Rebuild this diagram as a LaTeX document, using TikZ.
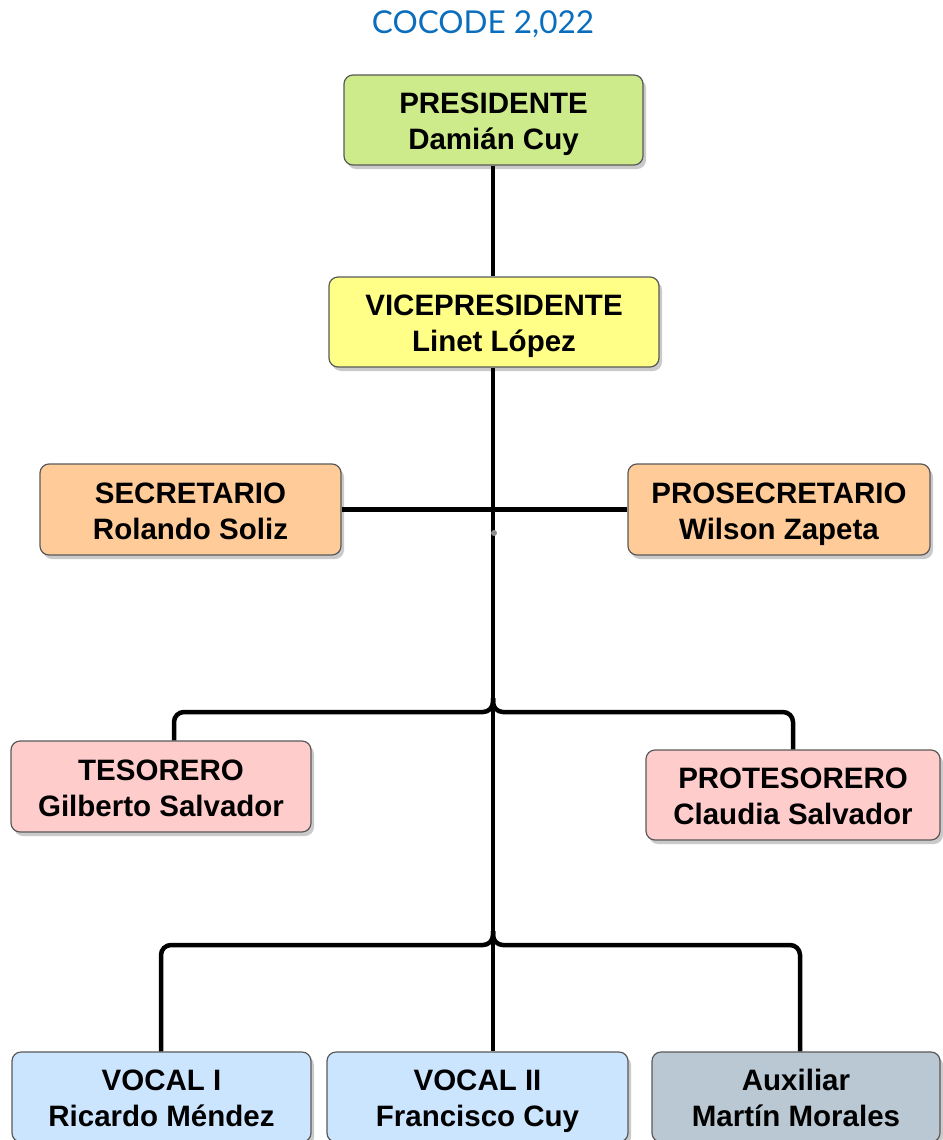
\documentclass[tikz,border=0pt]{standalone}
\usepackage{fontspec}
\setmainfont{Liberation Sans}
\newfontfamily\titlefont{Lato}
\usetikzlibrary{shadows,calc}
\definecolor{cgreen}{HTML}{CDEB8B}
\definecolor{cyellow}{HTML}{FFFF88}
\definecolor{corange}{HTML}{FFCC99}
\definecolor{cpink}{HTML}{FFCCCC}
\definecolor{cblue}{HTML}{CCE5FF}
\definecolor{cgrayblue}{HTML}{BAC8D3}
\definecolor{ctitle}{HTML}{0A6EBD}
\newcommand{\twolines}[2]{\rule{0pt}{34pt}#1\\\strut#2}
\begin{document}
\begin{tikzpicture}[x=1pt,y=-1pt,
  box/.style={draw=black!65, line width=1.2pt, rounded corners=9pt, align=center,
    inner sep=0pt, font=\fontsize{29.5}{36}\selectfont\bfseries,
    drop shadow={shadow xshift=3pt, shadow yshift=-4pt, opacity=0.35, fill=black!60}},
  conn/.style={line width=4.5pt, black, rounded corners=10pt}]
\useasboundingbox (0,0) rectangle (942,1140);
\node[text=ctitle, font=\titlefont\fontsize{31.5}{36}\selectfont] (title) at (483,24) {COCODE 2,022};
\node[box, fill=cgreen, minimum width=299pt, minimum height=90pt] (pres) at (493.5,120) {\twolines{PRESIDENTE}{Damián Cuy}};
\node[box, fill=cyellow, minimum width=330pt, minimum height=90pt] (vice) at (494,322) {\twolines{VICEPRESIDENTE}{Linet López}};
\node[box, fill=corange, minimum width=301pt, minimum height=91pt] (sec) at (190.5,509.5) {\twolines{SECRETARIO}{Rolando Soliz}};
\node[box, fill=corange, minimum width=302pt, minimum height=91pt] (prosec) at (779,509.5) {\twolines{PROSECRETARIO}{Wilson Zapeta}};
\node[box, fill=cpink, minimum width=300pt, minimum height=91pt] (tes) at (161,786.5) {\twolines{TESORERO}{Gilberto Salvador}};
\node[box, fill=cpink, minimum width=294pt, minimum height=90pt] (protes) at (793,795) {\twolines{PROTESORERO}{Claudia Salvador}};
\node[box, fill=cblue, minimum width=299pt, minimum height=90pt] (v1) at (161.5,1097) {\twolines{VOCAL I}{Ricardo Méndez}};
\node[box, fill=cblue, minimum width=301pt, minimum height=90pt] (v2) at (477.5,1097) {\twolines{VOCAL II}{Francisco Cuy}};
\node[box, fill=cgrayblue, minimum width=288pt, minimum height=90pt] (aux) at (796,1097) {\twolines{Auxiliar}{Martín Morales}};
% connectors
\coordinate (tj) at (493,698);
\coordinate (vj) at (493,931);
\draw[conn] (pres.south -| 493,0) -- (vice.north -| 493,0);
\draw[conn] (vice.south -| 493,0) -- (v2.north -| 493,0);
\draw[conn] (sec.east) -- (prosec.west);
\draw[conn] (tj) -- (493,712) -- (174,712) -- (tes.north -| 174,0);
\draw[conn] (tj) -- (493,712) -- (793,712) -- (protes.north);
\draw[conn] (vj) -- (493,945) -- (161,945) -- (v1.north -| 161,0);
\draw[conn] (vj) -- (493,945) -- (800,945) -- (aux.north -| 800,0);
\fill[black!45] (494,533) circle (3pt);
\end{tikzpicture}
\end{document}
